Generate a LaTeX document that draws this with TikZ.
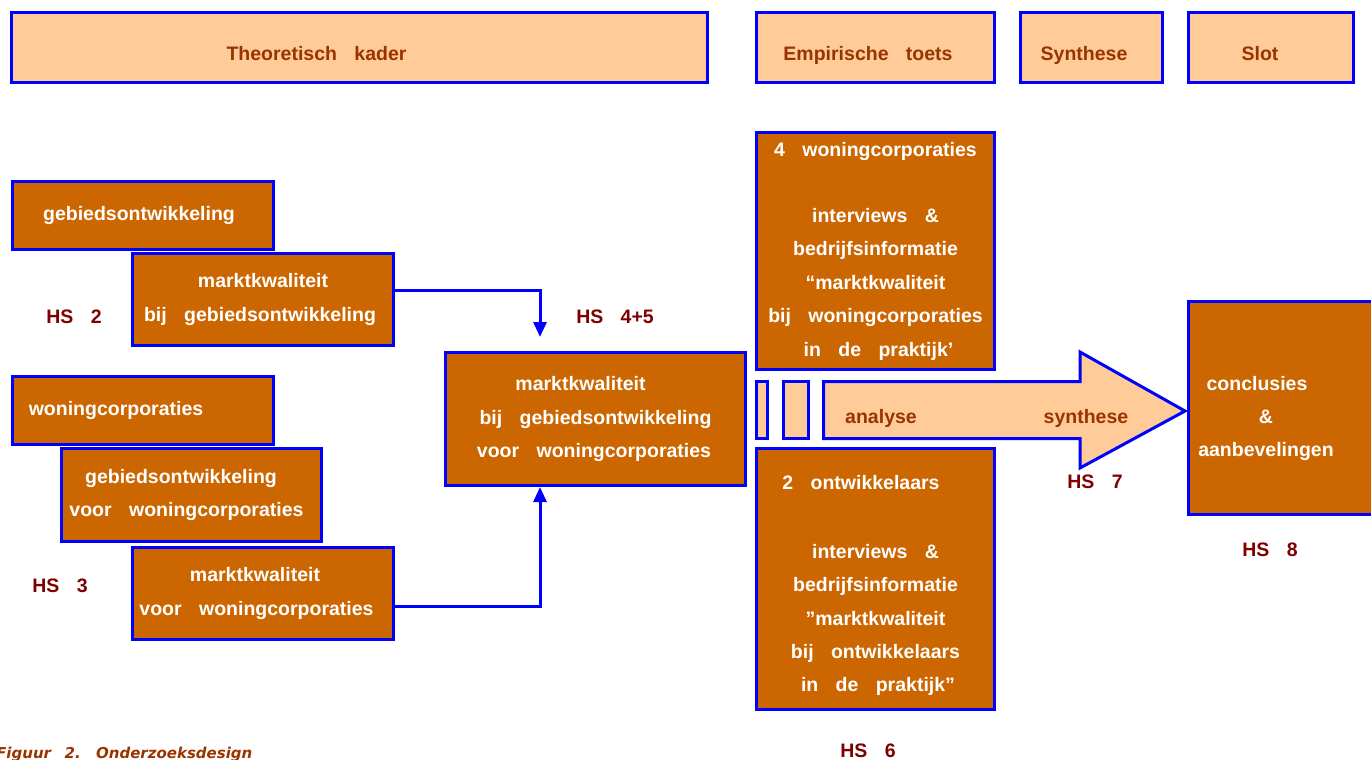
\documentclass[tikz,border=0pt]{standalone}
\usepackage{fontspec}
\setmainfont{Liberation Sans}[WordSpace=3.2]
\newfontfamily\capfont{DejaVu Sans}[WordSpace=2.6]
\usetikzlibrary{arrows.meta}
\definecolor{boxbrown}{RGB}{204,102,0}
\definecolor{peach}{RGB}{255,204,153}
\definecolor{labelred}{RGB}{153,51,0}
\definecolor{hsred}{RGB}{128,0,0}
% trailing space inside a centred line
\newcommand\tr[1]{\hspace*{#1pt}}
\begin{document}
\begin{tikzpicture}[x=1pt,y=-1pt,
  brownbox/.style={draw=blue, line width=3pt, fill=boxbrown, text=white,
    align=center, inner sep=0pt, font=\fontsize{19.5}{33.4}\selectfont\bfseries},
  peachbox/.style={draw=blue, line width=3pt, fill=peach, text=labelred,
    inner sep=0pt, text height=25pt, text depth=0pt,
    font=\fontsize{19.5}{23}\selectfont\bfseries},
  boxtext/.style={text=white, align=center, inner sep=0pt,
    font=\fontsize{19.5}{33}\selectfont\bfseries},
  hslabel/.style={anchor=base, text=hsred, inner sep=0pt,
    font=\fontsize{19.5}{23}\selectfont\bfseries},
  flowlabel/.style={anchor=base, text=labelred, inner sep=0pt,
    font=\fontsize{19.5}{23}\selectfont\bfseries},
  conn/.style={draw=blue, line width=3pt,
    -{Triangle[length=15pt,width=13pt]}}
]
\useasboundingbox (0,0) rectangle (1371,760);

% phase headers
\node[peachbox, minimum width=696, minimum height=70] (kader) at (359.5,47.5) {Theoretisch kader\tr{86}};
\node[peachbox, minimum width=238, minimum height=70] (toets) at (875.5,47.5) {Empirische toets\tr{15}};
\node[peachbox, minimum width=142, minimum height=70] (synth) at (1091.5,47.5) {Synthese\tr{15}};
\node[peachbox, minimum width=165, minimum height=70] (slot) at (1271,47.5) {Slot\tr{22}};

% theoretical chapters
\node[brownbox, minimum width=261, minimum height=68] (gebied) at (143,215.5) {gebiedsontwikkeling\tr{8}};
\node[brownbox, minimum width=261, minimum height=92] (mb) at (263,299.5) {marktkwaliteit\\bij gebiedsontwikkeling\tr{6}};
\node[brownbox, minimum width=261, minimum height=68] (woning) at (143,410.5) {woningcorporaties\tr{54}};
\node[brownbox, minimum width=260, minimum height=93] (gvw) at (191.5,495) {gebiedsontwikkeling\tr{21}\\voor woningcorporaties\tr{10}};
\node[brownbox, minimum width=261, minimum height=92] (mvw) at (263,593.5) {marktkwaliteit\tr{16}\\voor woningcorporaties\tr{13}};

\node[hslabel] (hs2) at (74,323) {HS 2};
\node[hslabel] (hs3) at (60,592) {HS 3};

% synthesis of the framework
\node[brownbox, minimum width=300, minimum height=133] (cent) at (595.5,419) {marktkwaliteit\tr{30}\\bij gebiedsontwikkeling\tr{10}\\voor woningcorporaties\tr{3}};
\node[hslabel] (hs45) at (615,323) {HS 4+5};

\coordinate (topin) at (540,337);
\draw[conn] ([yshift=9.5pt]mb.east) -| (topin);
\draw[conn] ([yshift=-12.5pt]mvw.east) -| ([xshift=96pt]cent.south west);

% empirical part
\node[brownbox, minimum width=238, minimum height=237] (wc4) at (875.5,251) {4 woningcorporaties\\[33pt]interviews \&\tr{31}\\bedrijfsinformatie\tr{38}\\“marktkwaliteit\tr{25}\\bij woningcorporaties\\in de praktijk’\tr{-6}};
\node[brownbox, minimum width=238, minimum height=261] (ont2) at (875.5,579) {\rule{0pt}{28pt}2 ontwikkelaars\tr{29}\\[35pt]interviews \&\tr{18}\\bedrijfsinformatie\tr{23}\\”marktkwaliteit\tr{25}\\bij ontwikkelaars\tr{7}\\in de praktijk”\tr{-5}};
\node[hslabel] (hs6) at (868,757) {HS 6};

% analysis arrow
\node[peachbox, line width=2.5pt, minimum width=11, minimum height=57] (r1) at (762,410) {};
\node[peachbox, line width=2.5pt, minimum width=25, minimum height=57] (r2) at (796,410) {};
\draw[draw=blue, line width=3pt, fill=peach, line join=miter]
  (823.5,381.5) -- (1080,381.5) -- (1080,352) -- (1185,411)
  -- (1080,468) -- (1080,438.5) -- (823.5,438.5) -- cycle;
\node[flowlabel] (analyse) at (881,423) {analyse};
\node[flowlabel] (synthese) at (1086,423) {synthese};
\node[hslabel] (hs7) at (1095,488) {HS 7};

% conclusions
\node[draw=blue, line width=3pt, fill=boxbrown, minimum width=200, minimum height=213, inner sep=0pt] (concl) at (1288.5,408) {};
\node[boxtext] (concltext) at (1266,418) {conclusies\tr{18}\\\&\\aanbevelingen};
\node[hslabel] (hs8) at (1270,556) {HS 8};

% caption
\node[anchor=base west, text=labelred, inner sep=0pt,
  font=\capfont\fontsize{15}{18}\selectfont\bfseries\itshape] (caption) at (-4,758) {Figuur 2. Onderzoeksdesign};
\end{tikzpicture}
\end{document}
